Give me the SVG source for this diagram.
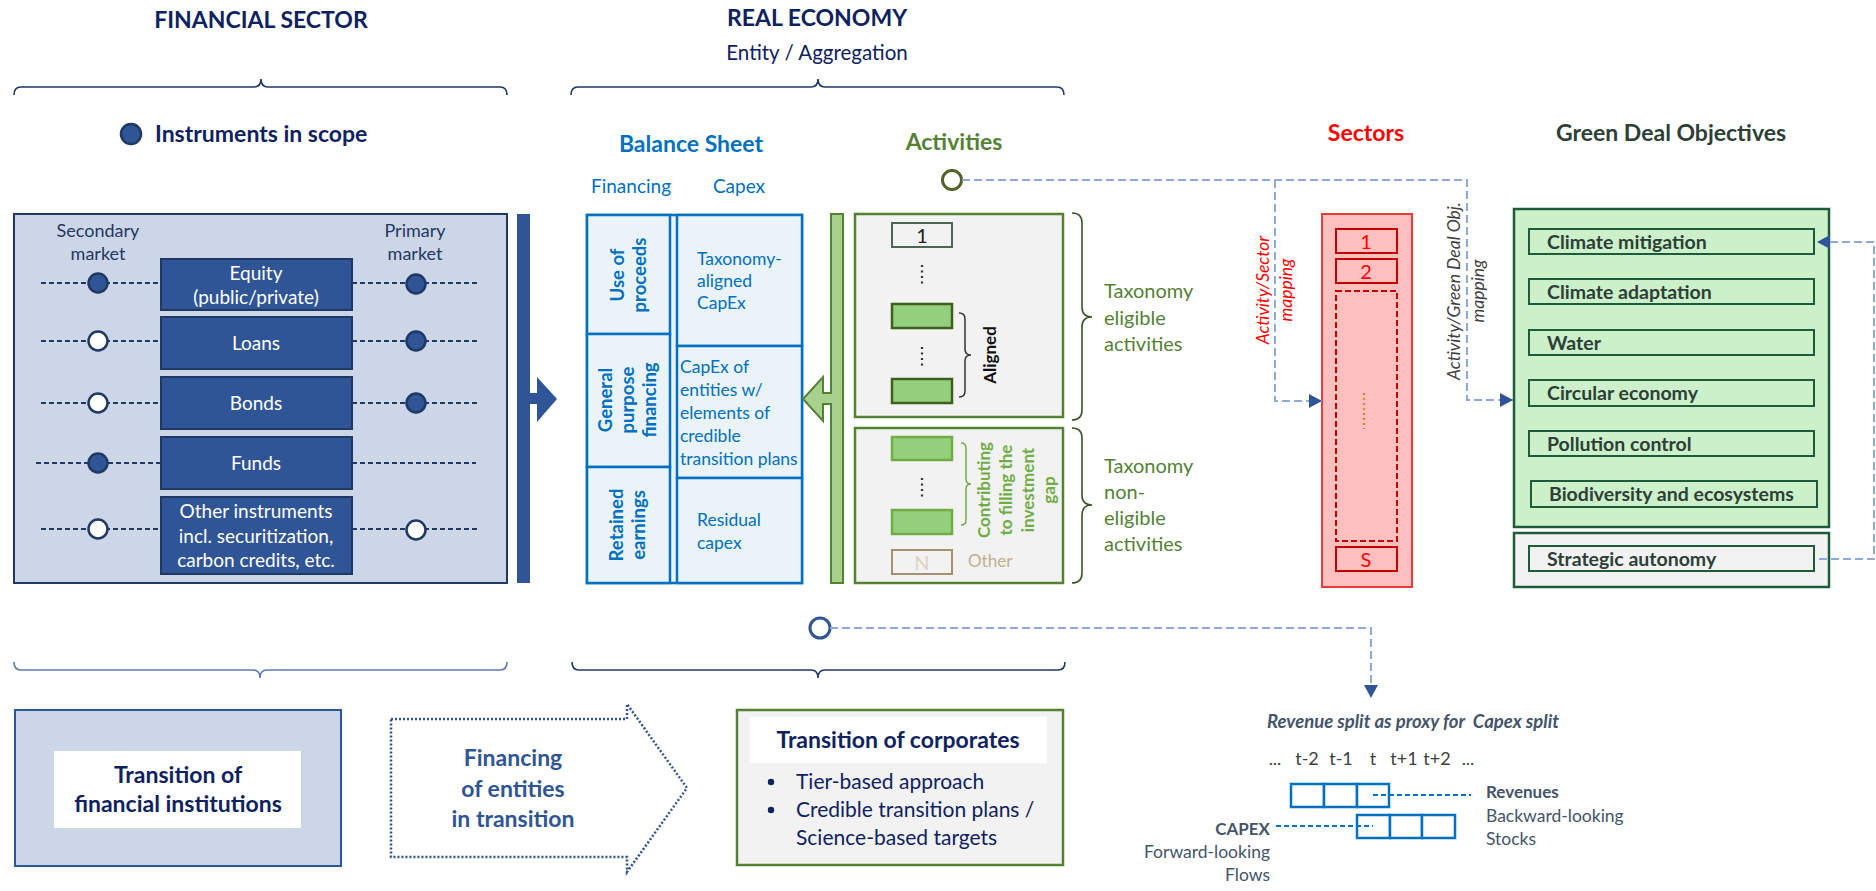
<svg xmlns="http://www.w3.org/2000/svg" width="1876" height="891" viewBox="0 0 1876 891">
<defs>
<style>
text{font-family:Lato,"Open Sans","Liberation Sans",sans-serif}
.h{font-size:23px;font-weight:700}
.navy{fill:#0E2261}
.brace{fill:none;stroke:#1F3864;stroke-width:1.6}
.inst rect{fill:#2F5597;stroke:#1F3864;stroke-width:2}
.inst text{fill:#fff;font-size:19px;text-anchor:middle}
.mkt{fill:#1F3864;font-size:18px;text-anchor:middle}
.dl{stroke:#1F3864;stroke-width:2;stroke-dasharray:5 3;fill:none}
.cf{fill:#2F5597;stroke:#1F3864;stroke-width:2.5}
.co{fill:#fff;stroke:#1F3864;stroke-width:2.5}
.bs{fill:#EAF3F8;stroke:#0070C0;stroke-width:2.5}
.bt{fill:#0070C0;font-size:17.5px}
.bb{fill:#0070C0;font-size:18.5px;font-weight:700;text-anchor:middle}
.act{fill:#F2F2F2;stroke:#548235;stroke-width:2.5}
.ga{fill:#93CF7D;stroke:#3F5F1F;stroke-width:2.5}
.gc{fill:#93CF7D;stroke:#70AD47;stroke-width:2.5}
.dots{stroke:#333;stroke-width:2.2;stroke-dasharray:2 3.5}
.tax{fill:#548235;font-size:20px}
.sec{fill:none;stroke:#C00000;stroke-width:2}
.sn{fill:#FF0000;font-size:20px;text-anchor:middle}
.gdo{fill:none;stroke:#1E5B3A;stroke-width:2}
.gt{fill:#2D3F36;font-size:19.5px;font-weight:700}
.conn{fill:none;stroke:#8FAADC;stroke-width:2;stroke-dasharray:8 4}
.rev{fill:#fff;stroke:#0070C0;stroke-width:2.5}
.gray{fill:#44546A}
</style>
<marker id="arr" markerUnits="userSpaceOnUse" markerWidth="14" markerHeight="14" refX="13" refY="7" orient="auto">
<path d="M0,0 L13,7 L0,14 Z" fill="#2F5597"/>
</marker>
</defs>
<rect width="1876" height="891" fill="#fff"/>

<g id="headings">
<text class="h navy" x="261" y="28" text-anchor="middle">FINANCIAL SECTOR</text>
<text class="h navy" x="817" y="26" text-anchor="middle">REAL ECONOMY</text>
<text class="navy" x="817" y="60" text-anchor="middle" font-size="20.5">Entity / Aggregation</text>
<path class="brace" d="M14,95 Q14,87 21,87 H254 Q261,87 261,79 Q261,87 268,87 H500 Q507,87 507,95"/>
<path class="brace" d="M571,95 Q571,87 578,87 H811 Q818,87 818,79 Q818,87 825,87 H1057 Q1064,87 1064,95"/>
<circle cx="131" cy="134" r="10" class="cf"/>
<text class="h navy" x="155" y="142">Instruments in scope</text>
<text class="h" x="691" y="152" text-anchor="middle" fill="#0070C0">Balance Sheet</text>
<text class="h" x="954" y="150" text-anchor="middle" fill="#548235">Activities</text>
<text class="h" x="1366" y="141" text-anchor="middle" fill="#FF0000">Sectors</text>
<text class="h" x="1671" y="141" text-anchor="middle" fill="#2D3F36">Green Deal Objectives</text>
<text x="631" y="193" text-anchor="middle" fill="#0070C0" font-size="19">Financing</text>
<text x="739" y="193" text-anchor="middle" fill="#0070C0" font-size="19">Capex</text>
</g>

<g id="instruments">
<rect x="14" y="214" width="493" height="369" fill="#CDD6E6" stroke="#1F3864" stroke-width="2"/>
<text class="mkt" x="98" y="237">Secondary</text>
<text class="mkt" x="98" y="260">market</text>
<text class="mkt" x="415" y="237">Primary</text>
<text class="mkt" x="415" y="260">market</text>
<path class="dl" d="M41,283 H161 M352,283 H480 M41,341 H161 M352,341 H480 M41,403 H161 M352,403 H480 M36,463 H161 M352,463 H476 M41,529 H161 M352,529 H480"/>
<g class="inst">
<rect x="161" y="259" width="191" height="51"/>
<rect x="161" y="317" width="191" height="52"/>
<rect x="161" y="377" width="191" height="52"/>
<rect x="161" y="437" width="191" height="52"/>
<rect x="161" y="497" width="191" height="77"/>
<text x="256" y="280">Equity</text>
<text x="256" y="304">(public/private)</text>
<text x="256" y="350">Loans</text>
<text x="256" y="410">Bonds</text>
<text x="256" y="470">Funds</text>
<text x="256" y="518">Other instruments</text>
<text x="256" y="543">incl. securitization,</text>
<text x="256" y="567">carbon credits, etc.</text>
</g>
<circle cx="98" cy="283" r="9.5" class="cf"/>
<circle cx="98" cy="341" r="9.5" class="co"/>
<circle cx="98" cy="403" r="9.5" class="co"/>
<circle cx="98" cy="463" r="9.5" class="cf"/>
<circle cx="98" cy="529" r="9.5" class="co"/>
<circle cx="416" cy="284" r="9.5" class="cf"/>
<circle cx="416" cy="341" r="9.5" class="cf"/>
<circle cx="416" cy="403" r="9.5" class="cf"/>
<circle cx="416" cy="530" r="9.5" class="co"/>
<path d="M517,214 H530 V393 H537 V377 L557,399 L537,422 V404 H530 V583 H517 Z" fill="#2F5597"/>
</g>

<g id="balance-sheet">
<rect class="bs" x="587" y="215" width="215" height="368"/>
<rect class="bs" x="587" y="215" width="83" height="119"/>
<rect class="bs" x="587" y="334" width="83" height="133"/>
<rect class="bs" x="587" y="467" width="83" height="116"/>
<rect class="bs" x="677" y="215" width="125" height="131"/>
<rect class="bs" x="677" y="346" width="125" height="132"/>
<rect class="bs" x="677" y="478" width="125" height="105"/>
<text class="bb" transform="translate(628,275) rotate(-90)"><tspan x="0" y="-4">Use of</tspan><tspan x="0" y="18">proceeds</tspan></text>
<text class="bb" transform="translate(628,400) rotate(-90)"><tspan x="0" y="-16">General</tspan><tspan x="0" y="6">purpose</tspan><tspan x="0" y="28">financing</tspan></text>
<text class="bb" transform="translate(628,525) rotate(-90)"><tspan x="0" y="-5">Retained</tspan><tspan x="0" y="17">earnings</tspan></text>
<text class="bt"><tspan x="697" y="265">Taxonomy-</tspan><tspan x="697" y="287">aligned</tspan><tspan x="697" y="309">CapEx</tspan></text>
<text class="bt"><tspan x="680" y="373">CapEx of</tspan><tspan x="680" y="396">entities w/</tspan><tspan x="680" y="419">elements of</tspan><tspan x="680" y="442">credible</tspan><tspan x="680" y="465">transition plans</tspan></text>
<text class="bt"><tspan x="697" y="526">Residual</tspan><tspan x="697" y="549">capex</tspan></text>
<path d="M831,214 H843 V583 H831 V404 H823 V421 L803,399 L823,377 V393 H831 Z" fill="#A9D18E" stroke="#548235" stroke-width="2"/>
</g>

<g id="activities">
<rect class="act" x="855" y="214" width="208" height="203"/>
<rect class="act" x="855" y="428" width="208" height="155"/>
<rect x="892" y="223" width="60" height="24" fill="#F2F2F2" stroke="#4E6456" stroke-width="2"/>
<text x="922" y="243" text-anchor="middle" font-size="20" fill="#222">1</text>
<line class="dots" x1="922" y1="265" x2="922" y2="284"/>
<rect class="ga" x="892" y="304" width="60" height="24"/>
<line class="dots" x1="922" y1="347" x2="922" y2="366"/>
<rect class="ga" x="892" y="379" width="60" height="24"/>
<path d="M959,313 Q965,313 965,319 V349 Q965,355 971,355 Q965,355 965,361 V391 Q965,397 959,397" fill="none" stroke="#333" stroke-width="1.5"/>
<text transform="translate(996,355) rotate(-90)" text-anchor="middle" font-size="17" font-weight="700" fill="#111">Aligned</text>
<rect class="gc" x="892" y="437" width="60" height="23"/>
<line class="dots" x1="922" y1="478" x2="922" y2="497"/>
<rect class="gc" x="892" y="510" width="60" height="24"/>
<rect x="892" y="550" width="60" height="24" fill="#F2F2F2" stroke="#A5916E" stroke-width="2"/>
<text x="922" y="570" text-anchor="middle" font-size="20" fill="#DDD3C2">N</text>
<text x="968" y="567" font-size="17" fill="#BFB08F">Other</text>
<path d="M961,443 Q966,443 966,448 V479 Q966,484 971,484 Q966,484 966,489 V520 Q966,525 961,525" fill="none" stroke="#70AD47" stroke-width="1.5"/>
<text transform="translate(1012,490) rotate(-90)" text-anchor="middle" font-size="17" font-weight="700" fill="#70AD47"><tspan x="0" y="-22">Contributing</tspan><tspan x="0" y="0">to filling the</tspan><tspan x="0" y="22">investment</tspan><tspan x="0" y="43">gap</tspan></text>
<path d="M1072,213 Q1082,213 1082,223 V307 Q1082,317 1092,317 Q1082,317 1082,327 V410 Q1082,420 1072,420" fill="none" stroke="#375623" stroke-width="1.6"/>
<path d="M1072,428 Q1082,428 1082,438 V495 Q1082,505 1092,505 Q1082,505 1082,515 V573 Q1082,583 1072,583" fill="none" stroke="#375623" stroke-width="1.6"/>
<text class="tax"><tspan x="1104" y="298">Taxonomy</tspan><tspan x="1104" y="325">eligible</tspan><tspan x="1104" y="351">activities</tspan></text>
<text class="tax"><tspan x="1104" y="473">Taxonomy</tspan><tspan x="1104" y="499">non-</tspan><tspan x="1104" y="525">eligible</tspan><tspan x="1104" y="551">activities</tspan></text>
</g>

<g id="sectors">
<rect x="1322" y="214" width="90" height="373" fill="#FFBFBF" stroke="#E23C3C" stroke-width="2"/>
<rect class="sec" x="1336" y="229" width="61" height="24"/>
<rect class="sec" x="1336" y="259" width="61" height="24"/>
<rect class="sec" x="1336" y="291" width="61" height="250" stroke-dasharray="6 3"/>
<rect class="sec" x="1336" y="547" width="61" height="24"/>
<text class="sn" x="1366" y="249">1</text>
<text class="sn" x="1366" y="279">2</text>
<text class="sn" x="1366" y="567">S</text>
<line x1="1364" y1="393" x2="1364" y2="429" stroke="#ED7D31" stroke-width="2.2" stroke-dasharray="2 3"/>
</g>

<g id="green-deal-objectives">
<rect x="1514" y="209" width="315" height="318" fill="#CCF0CA" stroke="#1E5B3A" stroke-width="2.5"/>
<rect class="gdo" x="1529" y="229" width="285" height="25"/>
<rect class="gdo" x="1529" y="279" width="285" height="25"/>
<rect class="gdo" x="1529" y="330" width="285" height="25"/>
<rect class="gdo" x="1529" y="380" width="285" height="26"/>
<rect class="gdo" x="1529" y="431" width="285" height="25"/>
<rect class="gdo" x="1531" y="481" width="286" height="26"/>
<text class="gt" x="1547" y="249">Climate mitigation</text>
<text class="gt" x="1547" y="299">Climate adaptation</text>
<text class="gt" x="1547" y="350">Water</text>
<text class="gt" x="1547" y="400">Circular economy</text>
<text class="gt" x="1547" y="451">Pollution control</text>
<text class="gt" x="1549" y="501">Biodiversity and ecosystems</text>
<rect x="1514" y="533" width="315" height="54" fill="#F2F2F2" stroke="#1E5B3A" stroke-width="2.5"/>
<rect class="gdo" x="1529" y="546" width="285" height="25" fill="#F2F2F2"/>
<text class="gt" x="1547" y="566">Strategic autonomy</text>
</g>

<g id="connectors">
<circle cx="952" cy="180" r="9.5" fill="#fff" stroke="#4F6228" stroke-width="3"/>
<path class="conn" d="M962,180 H1467 V400 H1513" marker-end="url(#arr)"/>
<path class="conn" d="M1275,180 V401 H1322" marker-end="url(#arr)"/>
<path class="conn" d="M1819,559 H1874 V242 H1817" stroke="#4472C4" marker-end="url(#arr)"/>
<circle cx="820" cy="628" r="10" fill="#fff" stroke="#2F5597" stroke-width="3"/>
<path class="conn" d="M830,628 H1371 V698" stroke-width="1.8" stroke-dasharray="4 3" marker-end="url(#arr)"/>
<text transform="translate(1280,290) rotate(-90)" text-anchor="middle" font-size="17.5" font-style="italic" fill="#FF0000"><tspan x="0" y="-11">Activity/Sector</tspan><tspan x="0" y="12">mapping</tspan></text>
<text transform="translate(1472,291) rotate(-90)" text-anchor="middle" font-size="17.5" font-style="italic" fill="#404040"><tspan x="0" y="-12">Activity/Green Deal Obj.</tspan><tspan x="0" y="12">mapping</tspan></text>
</g>

<g id="bottom-braces">
<path d="M14,662 Q14,670 21,670 H253 Q260,670 260,678 Q260,670 267,670 H500 Q507,670 507,662" fill="none" stroke="#5B7BB3" stroke-width="1.6"/>
<path class="brace" d="M572,662 Q572,670 579,670 H811 Q818,670 818,678 Q818,670 825,670 H1058 Q1065,670 1065,662"/>
</g>

<g id="transition-fi">
<rect x="15" y="710" width="326" height="156" fill="#CDD6E6" stroke="#2F5597" stroke-width="2"/>
<rect x="54" y="751" width="247" height="77" fill="#fff"/>
<text class="h navy" x="178" y="783" text-anchor="middle">Transition of</text>
<text class="h navy" x="178" y="812" text-anchor="middle">financial institutions</text>
</g>

<g id="financing-arrow">
<path d="M391,719 H627 V704 L687,788 L627,872 V857 H391 Z" fill="#fff" stroke="#2F5597" stroke-width="2.5" stroke-dasharray="2 2"/>
<text class="h" fill="#2F5597" text-anchor="middle"><tspan x="513" y="766">Financing</tspan><tspan x="513" y="797">of entities</tspan><tspan x="513" y="827">in transition</tspan></text>
</g>

<g id="transition-corporates">
<rect x="737" y="710" width="326" height="155" fill="#F2F2F2" stroke="#548235" stroke-width="2.5"/>
<rect x="750" y="717" width="297" height="46" fill="#fff"/>
<text class="h navy" x="898" y="748" text-anchor="middle">Transition of corporates</text>
<circle cx="771" cy="782" r="3.2" fill="#0E2261"/>
<circle cx="771" cy="810" r="3.2" fill="#0E2261"/>
<text class="navy" font-size="21"><tspan x="796" y="789">Tier-based approach</tspan><tspan x="796" y="817">Credible transition plans /</tspan><tspan x="796" y="845">Science-based targets</tspan></text>
</g>

<g id="revenue-capex">
<text class="gray" x="1267" y="728" font-size="18.5" font-weight="700" font-style="italic" xml:space="preserve">Revenue split as proxy for  Capex split</text>
<g fill="#404040" font-size="18" text-anchor="middle">
<text x="1275" y="765">...</text>
<text x="1307" y="765">t-2</text>
<text x="1341" y="765">t-1</text>
<text x="1373" y="765">t</text>
<text x="1404" y="765">t+1</text>
<text x="1437" y="765">t+2</text>
<text x="1468" y="765">...</text>
</g>
<rect class="rev" x="1291" y="784" width="33" height="23"/>
<rect class="rev" x="1324" y="784" width="33" height="23"/>
<rect class="rev" x="1357" y="784" width="32" height="23" fill="#BDD7EE"/>
<rect class="rev" x="1357" y="815" width="33" height="23" fill="#BDD7EE"/>
<rect class="rev" x="1390" y="815" width="32" height="23"/>
<rect class="rev" x="1422" y="815" width="33" height="23"/>
<path d="M1373,795 H1471 M1276,826 H1373" stroke="#0070C0" stroke-width="2" stroke-dasharray="5 3" fill="none"/>
<text class="gray" x="1486" y="798" font-size="17" font-weight="700">Revenues</text>
<text class="gray" x="1486" y="822" font-size="17.5">Backward-looking</text>
<text class="gray" x="1486" y="845" font-size="17.5">Stocks</text>
<text class="gray" x="1270" y="835" font-size="17" font-weight="700" text-anchor="end">CAPEX</text>
<text class="gray" x="1270" y="858" font-size="17.5" text-anchor="end">Forward-looking</text>
<text class="gray" x="1270" y="881" font-size="17.5" text-anchor="end">Flows</text>
</g>
</svg>
